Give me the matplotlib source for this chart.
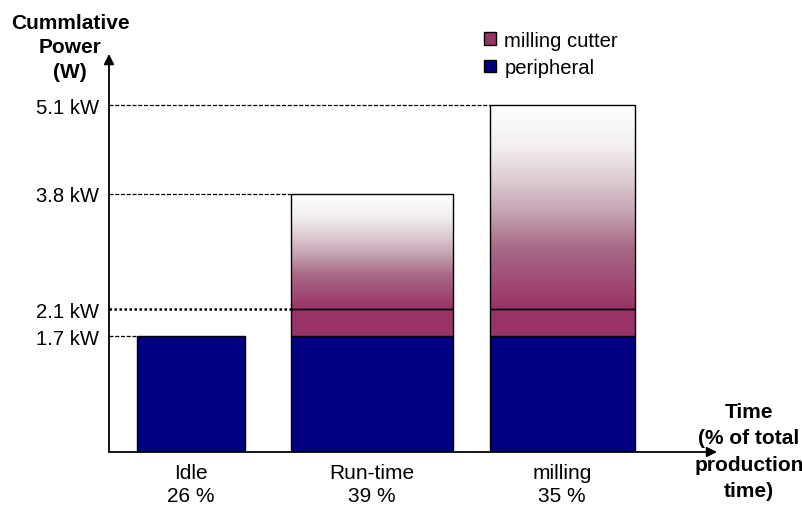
"""
Cumulative power of the machine tool per operating state
"""

import numpy as np
import matplotlib
matplotlib.use("Agg")
import matplotlib.pyplot as plt
from matplotlib.colors import LinearSegmentedColormap
from matplotlib.patches import Patch

plt.rcParams["font.family"] = ["Liberation Sans", "DejaVu Sans"]

# data
categories = ["Idle", "Run-time", "milling"]
time_share = [26, 39, 35]          # % of total production time (bar widths)
peripheral = [1.7, 1.7, 1.7]       # kW
cutter = [0.0, 0.4, 0.4]           # kW on top of peripheral
total = [1.7, 3.8, 5.1]            # kW, top of each bar
power_levels = [1.7, 2.1, 3.8, 5.1]
power_labels = ["1.7 kW", "2.1 kW", "3.8 kW", "5.1 kW"]

NAVY = "#000080"
PURPLE = "#993366"
FS = 14.6

# gaps before each bar, in % units
gaps = [6.7, 11.1, 8.9]


def bar_lefts():
    lefts = []
    x = 0
    for g, w in zip(gaps, time_share):
        x += g
        lefts.append(x)
        x += w
    return lefts


fig = plt.figure(figsize=(8.03, 5.06), dpi=100)
ax = fig.add_axes([109 / 803, 53 / 506, 608 / 803, 398 / 506])

lefts = bar_lefts()
centers = [l + w / 2 for l, w in zip(lefts, time_share)]

# peripheral and cutter parts
ax.bar(lefts, peripheral, width=time_share, align="edge", color=NAVY,
       edgecolor="black", linewidth=1, zorder=3)
for l, w, p, c in zip(lefts, time_share, peripheral, cutter):
    if c > 0:
        ax.bar(l, c, width=w, bottom=p, align="edge", color=PURPLE,
               edgecolor="black", linewidth=1, zorder=3)

# faded part above the cutter band
fade = LinearSegmentedColormap.from_list("fade", [
    (0.0, PURPLE), (0.3, "#a86a86"), (0.46, "#c2a0b0"),
    (0.63, "#dccbd2"), (0.8, "#f3eff0"), (1.0, "#ffffff")])
grad = np.linspace(0, 1, 256).reshape(-1, 1)
for l, w, p, c, t in zip(lefts, time_share, peripheral, cutter, total):
    base = p + c
    if t > base:
        ax.imshow(grad, cmap=fade, origin="lower", aspect="auto",
                  extent=[l, l + w, base, t], zorder=2)
        ax.bar(l, t - base, width=w, bottom=base, align="edge", fill=False,
               edgecolor="black", linewidth=1, zorder=3)

# guide lines from the axis to the first bar reaching the level
for lvl in power_levels:
    end = next(l for l, t in zip(lefts, total) if t >= lvl - 1e-9)
    if abs(lvl - 2.1) < 1e-9:
        ax.hlines(lvl, 0, end, colors="black", linewidth=1.8,
                  linestyles=(0, (1, 1)), zorder=1)
    else:
        ax.hlines(lvl, 0, end, colors="black", linewidth=0.9,
                  linestyles=(0, (3.2, 1.4)), zorder=1)

ax.set_xlim(0, 608 / 4.15)
ax.set_ylim(0, 398 / 68)

ax.set_yticks(power_levels, power_labels)
ax.set_xticks(centers, [f"{c}\n{s} %" for c, s in zip(categories, time_share)])
ax.tick_params(axis="y", length=0, labelsize=FS, pad=7)
ax.tick_params(axis="x", length=0, labelsize=15, pad=8)
for lbl in ax.get_xticklabels():
    lbl.set_linespacing(1.25)
for s in ax.spines.values():
    s.set_visible(False)

# axes with arrow heads
arrow = dict(arrowstyle="-|>", color="black", lw=1.3, mutation_scale=15,
             shrinkA=0, shrinkB=0)
ax.annotate("", xy=(1, 0), xytext=(0, 0), xycoords="axes fraction",
            arrowprops=arrow)
ax.annotate("", xy=(0, 1), xytext=(0, 0), xycoords="axes fraction",
            arrowprops=arrow)

fig.text(70 / 803, 1 - 14 / 506, "Cummlative\nPower\n(W)", ha="center",
         va="top", fontsize=15, fontweight="bold", linespacing=1.35)
fig.text(749 / 803, 1 - 403 / 506, "Time\n(% of total\nproduction\ntime)",
         ha="center", va="top", fontsize=15, fontweight="bold", linespacing=1.5)

handles = [Patch(facecolor=PURPLE, edgecolor="black", label="milling cutter"),
           Patch(facecolor=NAVY, edgecolor="black", label="peripheral")]
fig.legend(handles=handles, loc="upper left",
           bbox_to_anchor=(484 / 803, 1 - 32 / 506), frameon=False,
           fontsize=FS, handlelength=0.6, handleheight=0.6,
           handletextpad=0.4, labelspacing=0.4, borderpad=0,
           borderaxespad=0)

fig.savefig("out.png", dpi=100)
